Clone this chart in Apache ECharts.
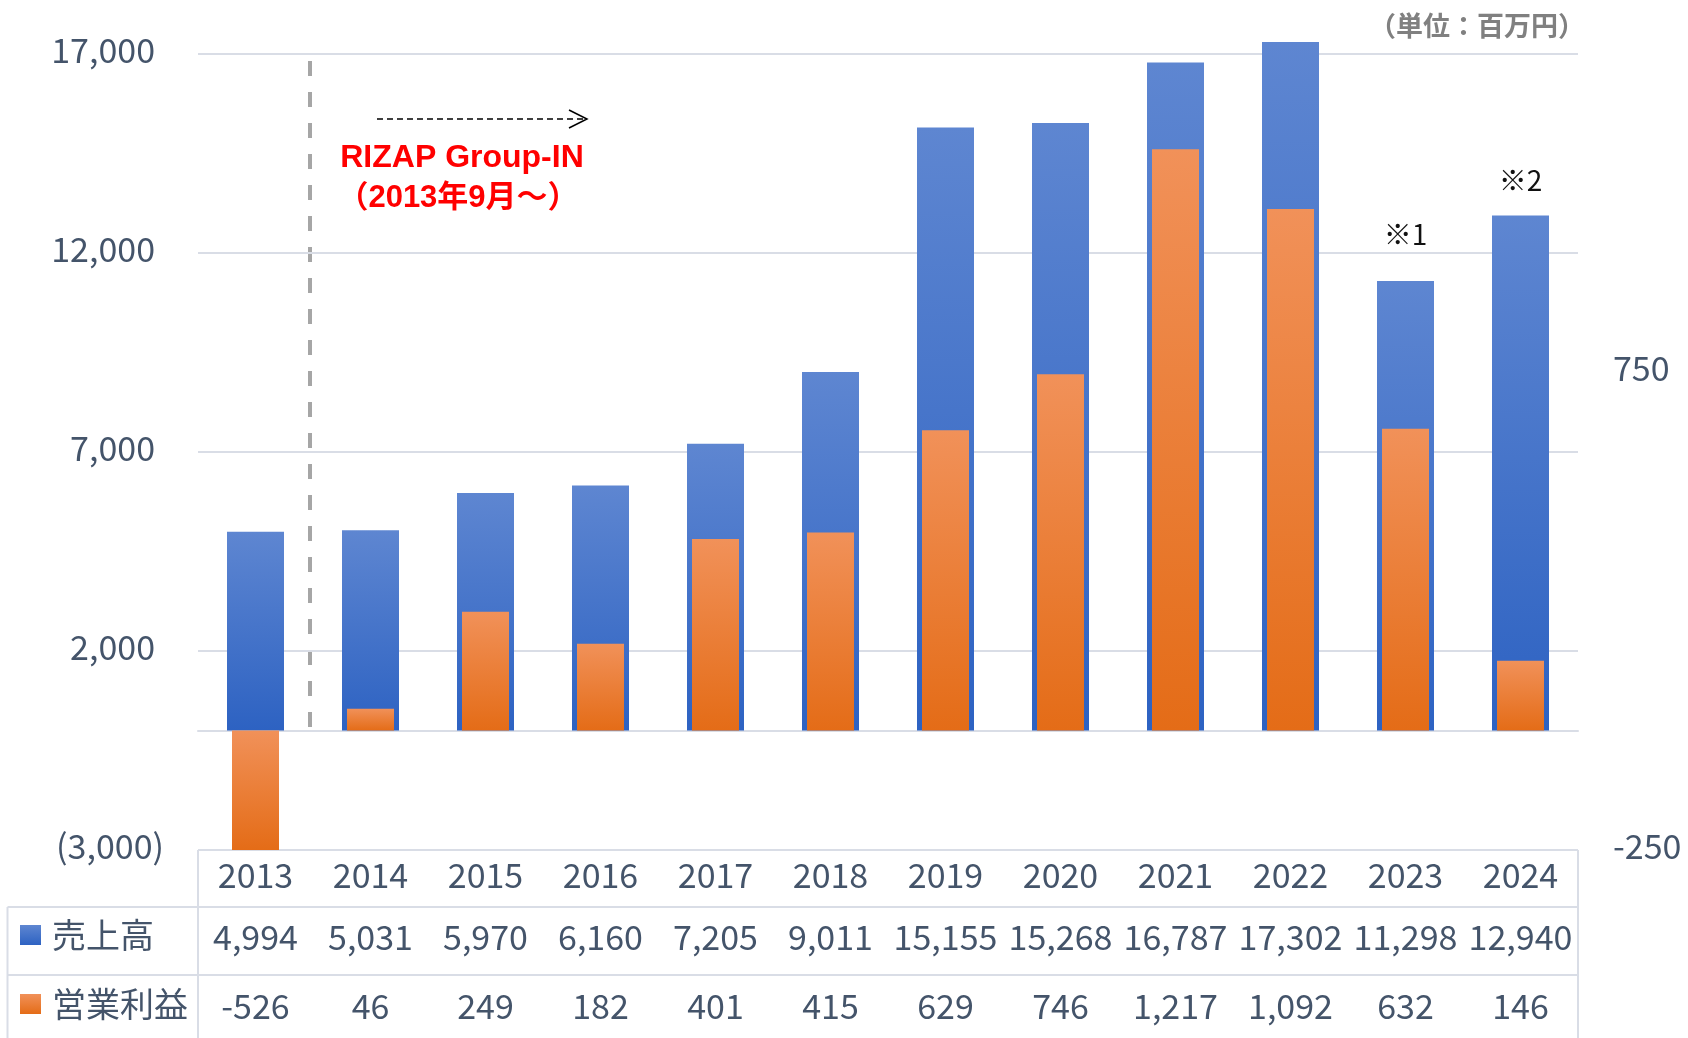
<!DOCTYPE html>
<html>
<head>
<meta charset="utf-8">
<script src="https://cdn.jsdelivr.net/npm/echarts@6/dist/echarts.min.js"></script>
<style>
  html, body { margin: 0; padding: 0; background: #fff; }
  #chart { width: 1688px; height: 1038px; }
</style>
</head>
<body>
<div id="chart"></div>
<script>
// data
const years = ['2013', '2014', '2015', '2016', '2017', '2018', '2019', '2020', '2021', '2022', '2023', '2024'];
const sales = [4994, 5031, 5970, 6160, 7205, 9011, 15155, 15268, 16787, 17302, 11298, 12940];
const profit = [-526, 46, 249, 182, 401, 415, 629, 746, 1217, 1092, 632, 146];
const notes = ['', '', '', '', '', '', '', '', '', '', '※1', '※2'];
const leftTicks = [-3000, 2000, 7000, 12000, 17000];
const rightTicks = [-250, 750];

const FONT = '"Noto Sans CJK JP", "Noto Sans", sans-serif';
const TXT = '#44546A';
const LINE = '#D9DDE6';

const fmt = v => v.toLocaleString('en-US');

const blue = new echarts.graphic.LinearGradient(0, 0, 0, 1, [
  { offset: 0, color: '#5E86D1' }, { offset: 1, color: '#2D62C2' }
]);
const orange = new echarts.graphic.LinearGradient(0, 0, 0, 1, [
  { offset: 0, color: '#F19159' }, { offset: 1, color: '#E46C17' }
]);

// note labels sit at slightly different heights above the bars
const noteGap = { '※1': 33, '※2': 21 };
const salesData = sales.map((v, i) => notes[i]
  ? { value: v, label: { show: true, distance: noteGap[notes[i]], formatter: notes[i] } }
  : v);

const chart = echarts.init(document.getElementById('chart'));

const hiddenCat = (extra) => Object.assign({
  type: 'category',
  data: years,
  position: 'bottom',
  axisTick: { show: false },
  axisLine: { show: false, onZero: false },
  splitLine: { show: false }
}, extra);

const rowLabel = (margin, fn) => ({
  show: true,
  interval: 0,
  margin: margin,
  fontSize: 34,
  fontFamily: FONT,
  color: TXT,
  formatter: fn
});

chart.setOption({
  animation: false,
  grid: { left: 198, right: 110, top: 54, bottom: 188 },
  legend: {
    orient: 'vertical',
    left: 15,
    top: 913,
    itemWidth: 21,
    itemHeight: 20,
    itemGap: 35,
    icon: 'rect',
    textStyle: { fontSize: 34, fontFamily: FONT, color: TXT, padding: [0, 0, 0, 6] },
    data: ['売上高', '営業利益']
  },
  xAxis: [
    hiddenCat({ axisLabel: rowLabel(8, v => v) }),
    hiddenCat({
      axisLine: { show: true, onZero: true, lineStyle: { color: LINE, width: 2 } },
      axisLabel: { show: false }
    }),
    hiddenCat({ axisLabel: rowLabel(70, (v, i) => fmt(sales[i])) }),
    hiddenCat({ axisLabel: rowLabel(139, (v, i) => fmt(profit[i])) })
  ],
  yAxis: [
    {
      type: 'value',
      min: -3000,
      max: 17000,
      axisLine: { show: false },
      axisTick: { show: false, customValues: leftTicks },
      splitLine: { lineStyle: { color: LINE, width: 2 } },
      axisLabel: {
        customValues: leftTicks,
        margin: 34,
        fontSize: 34,
        fontFamily: FONT,
        color: TXT,
        padding: [0, 0, 7, 0],
        formatter: v => v < 0 ? '(' + fmt(-v) + ')' : '{p|' + fmt(v) + '}',
        rich: { p: { fontSize: 34, fontFamily: FONT, color: TXT, padding: [0, 9, 0, 0] } }
      }
    },
    {
      type: 'value',
      position: 'right',
      min: -250,
      max: 4250 / 3,
      axisLine: { show: false },
      axisTick: { show: false, customValues: rightTicks },
      splitLine: { show: false },
      axisLabel: {
        customValues: rightTicks,
        margin: 35,
        fontSize: 34,
        fontFamily: FONT,
        color: TXT,
        formatter: v => '{r|' + v + '}',
        rich: { r: { fontSize: 34, fontFamily: FONT, color: TXT, padding: [0, 0, 8, 0] } }
      }
    }
  ],
  series: [
    {
      name: '売上高',
      type: 'bar',
      xAxisIndex: 0,
      yAxisIndex: 0,
      barWidth: 57,
      clip: false,
      itemStyle: { color: blue },
      label: {
        show: false,
        position: 'top',
        fontSize: 28,
        fontFamily: FONT,
        color: '#111'
      },
      data: salesData
    },
    {
      name: '営業利益',
      type: 'bar',
      xAxisIndex: 1,
      yAxisIndex: 1,
      barWidth: 47,
      itemStyle: { color: orange },
      data: profit
    }
  ],
  graphic: [
    // unit
    { type: 'text', x: 1585, y: 26, style: { text: '（単位：百万円）', fill: '#808080', align: 'right', verticalAlign: 'middle', font: 'bold 27px ' + FONT } },
    // group-in separator and note
    { type: 'line', shape: { x1: 310, y1: 61, x2: 310, y2: 730 }, style: { stroke: '#A6A6A6', lineWidth: 4, lineDash: [15, 16] } },
    { type: 'line', shape: { x1: 377, y1: 119, x2: 585, y2: 119 }, style: { stroke: '#000', lineWidth: 1.5, lineDash: [6, 4] } },
    { type: 'polyline', shape: { points: [[569, 110], [587, 119], [569, 128]] }, style: { stroke: '#000', lineWidth: 1.5, fill: null } },
    { type: 'text', x: 462, y: 158, style: { text: 'RIZAP Group-IN', fill: '#FF0000', align: 'center', verticalAlign: 'middle', font: 'bold 32px "Liberation Sans", ' + FONT } },
    { type: 'text', x: 458, y: 198, style: { text: '（2013年9月～）', fill: '#FF0000', align: 'center', verticalAlign: 'middle', font: 'bold 31px "Liberation Sans", ' + FONT } },
    // table borders
    { type: 'line', shape: { x1: 7.5, y1: 907, x2: 1578, y2: 907 }, style: { stroke: LINE, lineWidth: 2 } },
    { type: 'line', shape: { x1: 7.5, y1: 975, x2: 1578, y2: 975 }, style: { stroke: LINE, lineWidth: 2 } },
    { type: 'line', shape: { x1: 198, y1: 850, x2: 198, y2: 1038 }, style: { stroke: LINE, lineWidth: 2 } },
    { type: 'line', shape: { x1: 1578, y1: 850, x2: 1578, y2: 1038 }, style: { stroke: LINE, lineWidth: 2 } },
    { type: 'line', shape: { x1: 7.5, y1: 907, x2: 7.5, y2: 1038 }, style: { stroke: LINE, lineWidth: 2 } }
  ]
});
</script>
</body>
</html>
